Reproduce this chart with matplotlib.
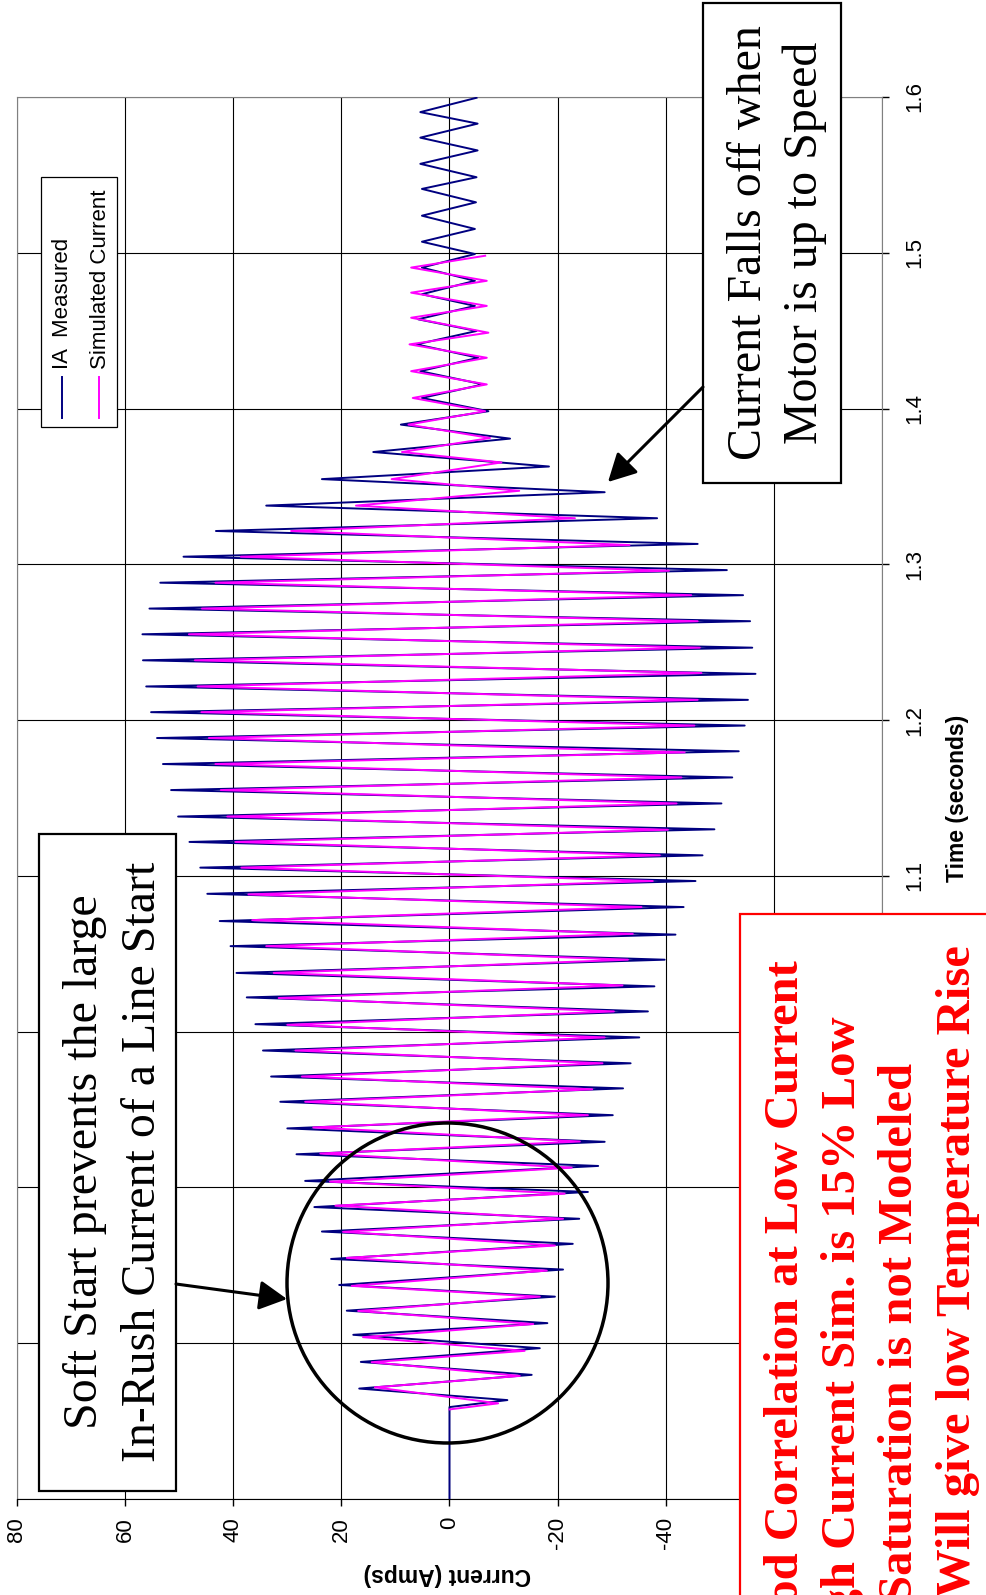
import numpy as np
import matplotlib
matplotlib.use("Agg")
import matplotlib.pyplot as plt
from matplotlib.patches import Rectangle, Ellipse

# IA measured: peak currents (A) per half cycle and their times (s)
meas_start_t = [0.700, 0.759]
meas_pos_t = [0.7709, 0.7880, 0.8054, 0.8209, 0.8374, 0.8541, 0.8717, 0.8874, 0.9042, 0.9213,
              0.9379, 0.9550, 0.9712, 0.9879, 1.0048, 1.0220, 1.0377, 1.0549, 1.0710, 1.0885,
              1.1053, 1.1218, 1.1381, 1.1551, 1.1718, 1.1885, 1.2051, 1.2216, 1.2384, 1.2551,
              1.2716, 1.2882, 1.3049, 1.3214, 1.3377, 1.3547, 1.3721, 1.3897, 1.4068, 1.4240,
              1.4412, 1.4573, 1.4734, 1.4905, 1.5071, 1.5238, 1.5410, 1.5571, 1.5739, 1.5903]
meas_pos_i = [16.7, 16.4, 17.8, 19.0, 20.4, 21.9, 23.6, 25.0, 26.7, 28.3,
              30.0, 31.3, 33.0, 34.5, 35.9, 37.5, 39.4, 40.5, 42.5, 44.8,
              46.1, 48.1, 50.2, 51.5, 53.0, 54.1, 55.2, 56.1, 56.7, 56.8,
              55.5, 53.5, 49.2, 43.2, 33.9, 23.6, 14.1, 9.0, 5.1, 5.4,
              6.1, 5.8, 5.1, 5.1, 5.1, 5.1, 5.1, 5.4, 5.4, 5.4]
meas_neg_t = [0.7635, 0.7797, 0.7968, 0.8129, 0.8299, 0.8473, 0.8638, 0.8799, 0.8971, 0.9138,
              0.9293, 0.9464, 0.9636, 0.9797, 0.9963, 1.0130, 1.0291, 1.0462, 1.0623, 1.0800,
              1.0967, 1.1132, 1.1299, 1.1465, 1.1632, 1.1800, 1.1965, 1.2130, 1.2297, 1.2465,
              1.2635, 1.2802, 1.2963, 1.3131, 1.3296, 1.3463, 1.3628, 1.3807, 1.3983, 1.4155,
              1.4326, 1.4498, 1.4659, 1.4820, 1.4992, 1.5153, 1.5324, 1.5485, 1.5657, 1.5829,
              1.5995]
meas_neg_i = [-10.7, -15.2, -16.7, -18.1, -19.5, -21.0, -22.8, -24.0, -25.6, -27.5,
              -28.7, -30.2, -32.1, -33.5, -35.1, -36.7, -37.9, -39.8, -41.8, -43.3,
              -45.5, -46.8, -49.0, -50.3, -52.3, -53.5, -54.6, -55.2, -56.6, -56.0,
              -55.6, -54.3, -51.3, -45.9, -38.4, -28.7, -18.4, -11.2, -7.2, -6.2,
              -5.3, -5.0, -4.7, -4.7, -4.7, -4.7, -4.9, -5.0, -5.2, -5.2,
              -5.0]

# simulated current
sim_start_t = [0.7575]
sim_pos_t = [0.7717, 0.7878, 0.8039, 0.8207, 0.8368, 0.8548, 0.8715, 0.8883, 0.9037, 0.9218,
             0.9385, 0.9550, 0.9712, 0.9879, 1.0044, 1.0216, 1.0377, 1.0549, 1.0716, 1.0881,
             1.1053, 1.1218, 1.1381, 1.1551, 1.1718, 1.1885, 1.2051, 1.2216, 1.2384, 1.2551,
             1.2716, 1.2882, 1.3049, 1.3214, 1.3377, 1.3547, 1.3721, 1.3897, 1.4068, 1.4240,
             1.4412, 1.4583, 1.4744, 1.4905]
sim_pos_i = [13.8, 14.4, 16.0, 16.9, 18.1, 19.0, 19.7, 21.1, 22.1, 23.9,
             25.2, 26.7, 27.3, 28.5, 30.0, 31.6, 32.5, 33.9, 36.5, 37.2,
             38.5, 39.6, 41.1, 42.3, 43.3, 44.5, 45.9, 46.6, 47.1, 48.2,
             45.8, 43.3, 38.6, 29.3, 17.3, 10.7, 8.8, 7.6, 6.8, 7.1,
             7.4, 7.1, 7.1, 7.1]
sim_neg_t = [0.7614, 0.7790, 0.7951, 0.8123, 0.8299, 0.8466, 0.8627, 0.8799, 0.8960, 0.9127,
             0.9295, 0.9464, 0.9630, 0.9797, 0.9963, 1.0130, 1.0297, 1.0462, 1.0628, 1.0800,
             1.0967, 1.1132, 1.1296, 1.1465, 1.1632, 1.1793, 1.1965, 1.2130, 1.2302, 1.2465,
             1.2635, 1.2802, 1.2959, 1.3124, 1.3296, 1.3472, 1.3654, 1.3811, 1.3983, 1.4155,
             1.4326, 1.4487, 1.4659, 1.4820, 1.4981]
sim_neg_i = [-9.0, -13.0, -13.9, -15.5, -16.7, -18.0, -19.5, -21.0, -21.3, -22.6,
             -24.1, -25.6, -26.4, -28.3, -28.7, -30.4, -32.0, -33.0, -33.9, -35.5,
             -37.6, -38.9, -40.4, -42.0, -42.9, -43.5, -45.3, -45.9, -46.6, -46.3,
             -45.9, -44.7, -40.6, -33.3, -23.2, -12.9, -9.6, -7.5, -6.6, -6.9,
             -6.9, -7.2, -6.9, -6.9, -6.6]

cur_ticks = [80, 60, 40, 20, 0, -20, -40, -60, -80]
cur_labels = ['80', '60', '40', '20', '0', '-20', '-40', '-60', '-80']
time_ticks = [0.7, 0.8, 0.9, 1.0, 1.1, 1.2, 1.3, 1.4, 1.5, 1.6]
time_labels = ['0.7', '0.8', '0.9', '1', '1.1', '1.2', '1.3', '1.4', '1.5', '1.6']

series_names = ['IA  Measured', 'Simulated Current']
notes_left = ['Soft Start prevents the large', 'In-Rush Current of a Line Start']
notes_top = ['Current Falls off when', 'Motor is up to Speed']
notes_red = ['Good Correlation at Low Current', 'High Current Sim. is 15% Low',
             'Saturation is not Modeled', 'Will give low Temperature Rise']


def trace(start_t, pos_t, pos_i, neg_t, neg_i):
    t = np.concatenate([start_t, pos_t, neg_t])
    i = np.concatenate([np.zeros(len(start_t)), pos_i, neg_i])
    order = np.argsort(t)
    return t[order], i[order]


meas_t, meas_i = trace(meas_start_t, meas_pos_t, meas_pos_i, meas_neg_t, meas_neg_i)
sim_t, sim_i = trace(sim_start_t, sim_pos_t, sim_pos_i, sim_neg_t, sim_neg_i)

NAVY = '#000080'
MAGENTA = '#ff00ff'
SANS = 'Liberation Sans'
SERIF = 'Liberation Serif'

W, H = 987, 1595
fig = plt.figure(figsize=(W / 100, H / 100), dpi=100)
fig.patch.set_facecolor('white')

# chart is drawn turned a quarter turn: current runs across, time runs up
ax = fig.add_axes([17 / W, 1 - 1499 / H, 865 / W, 1402 / H])
ax.plot(meas_i, meas_t, color=NAVY, lw=1.4, zorder=3)
ax.plot(sim_i, sim_t, color=MAGENTA, lw=1.4, zorder=4)
ax.set_xlim(80, -80)
ax.set_ylim(0.7, 1.6)

ax.set_xticks(cur_ticks)
ax.set_xticklabels(cur_labels, rotation=90, fontsize=16, family=SANS)
ax.yaxis.tick_right()
ax.set_yticks(time_ticks)
ax.set_yticklabels(time_labels, rotation=90, fontsize=16, family=SANS, va='center')
ax.tick_params(axis='x', direction='out', length=5, width=1, pad=8)
ax.tick_params(axis='y', direction='out', length=5, width=1, pad=11)
ax.grid(True, color='black', lw=0.8)
ax.set_axisbelow(True)
for side in ['top', 'left', 'right']:
    ax.spines[side].set_color('#808080')
ax.spines['bottom'].set_color('black')

# labels that sit under the red note box are not seen
for lbl in ax.get_xticklabels():
    if lbl.get_text() in ('-60', '-80'):
        lbl.set_visible(False)
for lbl in ax.get_yticklabels():
    if lbl.get_text() in ('0.7', '0.8', '0.9', '1'):
        lbl.set_visible(False)

ax.set_xlabel('Current (Amps)', rotation=180, fontsize=16.5, fontweight='bold', family=SANS)
ax.xaxis.label.set_va('center')
ax.xaxis.set_label_coords(0.497, -0.054)
ax.yaxis.set_label_position('right')
ax.set_ylabel('Time (seconds)', rotation=90, fontsize=16.5, fontweight='bold', family=SANS)
ax.yaxis.label.set_va('center')
ax.yaxis.set_label_coords(1.0875, 0.5)

# overlay in pixel units for the pasted-on notes
ov = fig.add_axes([0, 0, 1, 1], zorder=5)
ov.set_xlim(0, W)
ov.set_ylim(H, 0)
ov.axis('off')

# legend
ov.add_patch(Rectangle((41, 177), 76, 250, fc='white', ec='black', lw=0.9))
ov.plot([61.7, 61.7], [377, 418], color=NAVY, lw=1.4)
ov.plot([99, 99], [377, 418], color=MAGENTA, lw=1.4)
ov.text(68, 369, series_names[0], rotation=90, rotation_mode='anchor', ha='left',
        va='baseline', fontsize=16, family=SANS)
ov.text(106, 369, series_names[1], rotation=90, rotation_mode='anchor', ha='left',
        va='baseline', fontsize=16, family=SANS)

# soft start note
ov.add_patch(Rectangle((39, 834), 137, 657, fc='white', ec='black', lw=1.6))
for x, s in zip([97, 155], notes_left):
    ov.text(x, 1162, s, rotation=90, rotation_mode='anchor', ha='center', va='baseline',
            fontsize=34.5, family=SERIF)
ov.add_patch(Ellipse((447.5, 1283), 321, 320, fill=False, ec='black', lw=2.5))
ov.annotate('', xy=(287, 1299), xytext=(176, 1284),
            arrowprops=dict(arrowstyle='-|>,head_length=0.85,head_width=0.45',
                            mutation_scale=20, lw=2.2, color='black', shrinkA=0, shrinkB=0))

# up-to-speed note
ov.add_patch(Rectangle((703, 3), 138, 480, fc='white', ec='black', lw=1.6))
for x, s in zip([761, 817], notes_top):
    ov.text(x, 243, s, rotation=90, rotation_mode='anchor', ha='center', va='baseline',
            fontsize=34.5, family=SERIF)
ov.annotate('', xy=(608, 482), xytext=(703, 387),
            arrowprops=dict(arrowstyle='-|>,head_length=0.85,head_width=0.45',
                            mutation_scale=20, lw=2.2, color='black', shrinkA=0, shrinkB=0))

# red conclusions box, running off the page
ov.add_patch(Rectangle((740, 914), 400, 800, fc='white', ec='red', lw=1.6))
for (x, y), s in zip([(798, 960), (855, 1016), (912, 1063), (970, 945)], notes_red):
    ov.text(x, y, s, rotation=90, rotation_mode='anchor', ha='right', va='baseline',
            fontsize=35, fontweight='bold', color='red', family=SERIF)

fig.savefig('out.png', dpi=100, facecolor='white')
